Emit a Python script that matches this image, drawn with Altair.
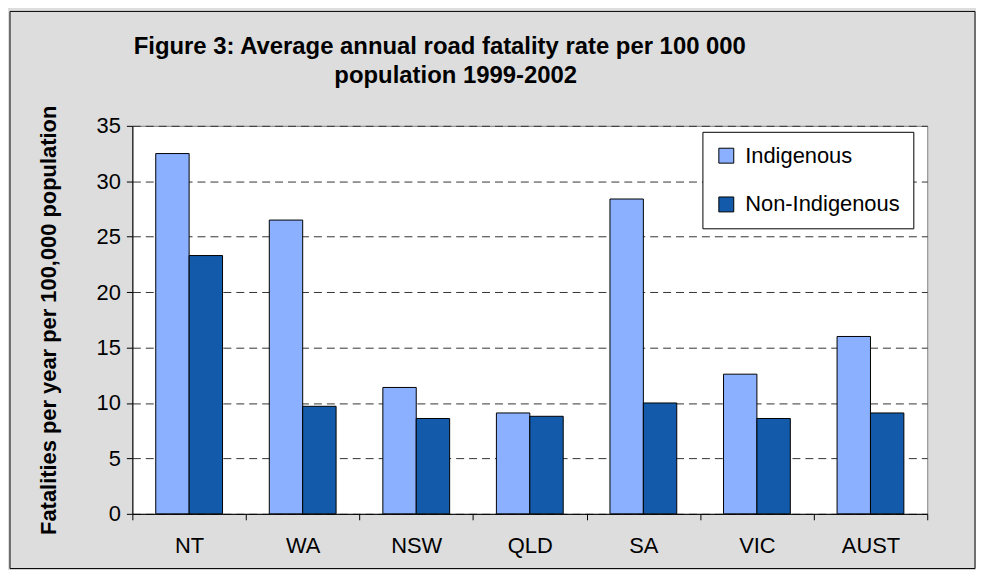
import altair as alt
import pandas as pd

states = ["NT", "WA", "NSW", "QLD", "SA", "VIC", "AUST"]
indigenous = [32.5, 26.5, 11.4, 9.1, 28.4, 12.6, 16.0]
non_indigenous = [23.3, 9.7, 8.6, 8.8, 10.0, 8.6, 9.1]
groups = ["Indigenous", "Non-Indigenous"]
colors = ["#8AB0FF", "#145AAA"]
title_lines = ["Figure 3: Average annual road fatality rate per 100 000", "population 1999-2002"]

rows = []
for s, a, b in zip(states, indigenous, non_indigenous):
    rows.append({"State": s, "Group": groups[0], "Rate": a})
    rows.append({"State": s, "Group": groups[1], "Rate": b})
df = pd.DataFrame(rows)

FONT = "Liberation Sans"

bars = alt.Chart(df).mark_bar(stroke="black", strokeWidth=1).encode(
    x=alt.X("State:N", sort=states, title=None,
            scale=alt.Scale(paddingInner=0, paddingOuter=0),
            axis=alt.Axis(labelAngle=0, labelFontSize=22, labelColor="black",
                          labelFont=FONT, labelPadding=16, tickBand="extent",
                          tickColor="black", tickSize=6, domainColor="black",
                          domainWidth=1)),
    xOffset=alt.XOffset("Group:N", sort=groups,
                        scale=alt.Scale(paddingInner=0, paddingOuter=0.7)),
    y=alt.Y("Rate:Q", title="Fatalities per year per 100,000 population",
            scale=alt.Scale(domain=[0, 35]),
            axis=alt.Axis(values=[0, 5, 10, 15, 20, 25, 30, 35], labelFontSize=22,
                          labelColor="black", labelFont=FONT, labelPadding=6,
                          tickColor="black", tickSize=6, domainColor="black",
                          grid=True, gridDash=[8, 5], gridColor="#333333", gridWidth=1,
                          titleFontSize=22, titleFont=FONT, titleFontWeight="bold",
                          titleColor="black", titlePadding=36)),
    color=alt.Color("Group:N", sort=groups,
                    scale=alt.Scale(domain=groups, range=colors),
                    legend=alt.Legend(title=None, orient="none", legendX=573, legendY=6,
                                      labelFontSize=22, labelFont=FONT, labelColor="black",
                                      symbolType="square", symbolSize=225,
                                      symbolStrokeColor="black", symbolStrokeWidth=1,
                                      rowPadding=27, padding=13, fillColor="white",
                                      strokeColor="black", labelOffset=8)),
)

one = pd.DataFrame({"k": [0]})
frame = alt.Chart(one).mark_rect(fill=None, stroke="black", strokeWidth=1).encode(
    x=alt.value(-123), x2=alt.value(847), y=alt.value(-115), y2=alt.value(445))

title1 = alt.Chart(one).mark_text(
    font=FONT, fontSize=24, fontWeight="bold", color="black", align="center", baseline="alphabetic"
).encode(x=alt.value(309), y=alt.value(-72), text=alt.value(title_lines[0]))
title2 = alt.Chart(one).mark_text(
    font=FONT, fontSize=24, fontWeight="bold", color="black", align="center", baseline="alphabetic"
).encode(x=alt.value(325), y=alt.value(-43), text=alt.value(title_lines[1]))

chart = alt.layer(bars, frame, title1, title2).properties(
    width=799, height=390,
    background="#DDDDDD",
    padding={"left": 125, "top": 117, "right": 49, "bottom": 55},
    autosize=alt.AutoSizeParams(type="none"),
).configure_view(fill="white", stroke="#808080", strokeWidth=1)

chart.save("out.html", embed_options={"renderer": "svg", "actions": False})
